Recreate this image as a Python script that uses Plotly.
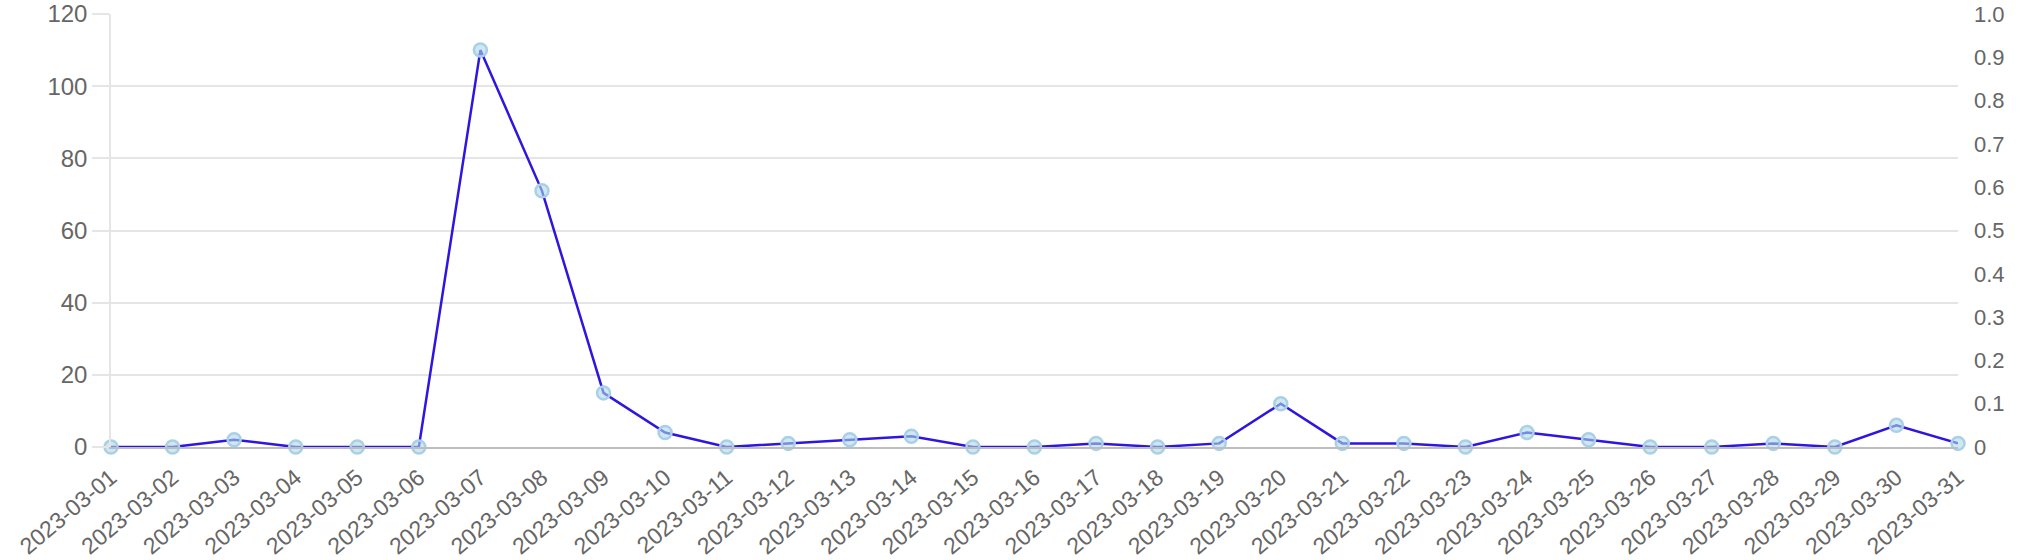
import plotly.graph_objects as go

dates = ["2023-03-%02d" % d for d in range(1, 32)]
values = [0, 0, 2, 0, 0, 0, 110, 71, 15, 4, 0, 1, 2, 3, 0, 0, 1, 0, 1, 12,
          1, 1, 0, 4, 2, 0, 0, 1, 0, 6, 1]
left_ticks = [0, 20, 40, 60, 80, 100, 120]
right_tickvals = [0, 0.1, 0.2, 0.3, 0.4, 0.5, 0.6, 0.7, 0.8, 0.9, 1.0]
right_ticktext = ["0", "0.1", "0.2", "0.3", "0.4", "0.5", "0.6", "0.7", "0.8", "0.9", "1.0"]

FONT = "Liberation Sans, Arial, Helvetica, sans-serif"
TICK_COLOR = "#666666"

fig = go.Figure()
fig.add_trace(go.Scatter(
    x=dates, y=values, mode="lines+markers",
    line=dict(color="#2e16e0", width=2.5),
    marker=dict(size=13, color="rgba(173,216,230,0.6)",
                line=dict(color="#a9d0e6", width=2.5)),
    cliponaxis=False, showlegend=False,
))
fig.add_trace(go.Scatter(
    x=dates, y=[None] * len(dates), yaxis="y2", mode="lines",
    showlegend=False, hoverinfo="skip",
))

fig.update_layout(
    width=2024, height=560,
    margin=dict(l=111, r=66, t=14, b=113, autoexpand=False),
    paper_bgcolor="white", plot_bgcolor="white",
    font=dict(family=FONT, color=TICK_COLOR),
    xaxis=dict(
        type="category", range=[0, len(dates) - 1], automargin=False,
        showgrid=False, zeroline=False,
        showline=True, linecolor="#bdbdbd", linewidth=2,
        ticks="", tickangle=-40,
        tickfont=dict(size=23, color=TICK_COLOR, family=FONT),
        ticklabelstandoff=6, ticklabeloverflow="allow",
    ),
    yaxis=dict(
        range=[0, 120], tickvals=left_ticks, automargin=False,
        showgrid=True, gridcolor="#e5e5e5", gridwidth=1.5,
        zeroline=False,
        showline=True, linecolor="#e5e5e5", linewidth=1.5,
        ticks="outside", ticklen=17, tickcolor="#e5e5e5", tickwidth=1.5,
        tickfont=dict(size=24, color=TICK_COLOR, family=FONT),
        ticklabelstandoff=0, ticklabeloverflow="allow",
    ),
    yaxis2=dict(
        overlaying="y", side="right", range=[0, 1], automargin=False,
        tickvals=right_tickvals, ticktext=right_ticktext,
        showgrid=False, zeroline=False, showline=False, ticks="",
        tickfont=dict(size=22, color=TICK_COLOR, family=FONT),
        ticklabelstandoff=15, ticklabeloverflow="allow",
    ),
)

fig.write_html("out.html", config={"displayModeBar": False},
               post_script="document.body.style.margin='0';")
